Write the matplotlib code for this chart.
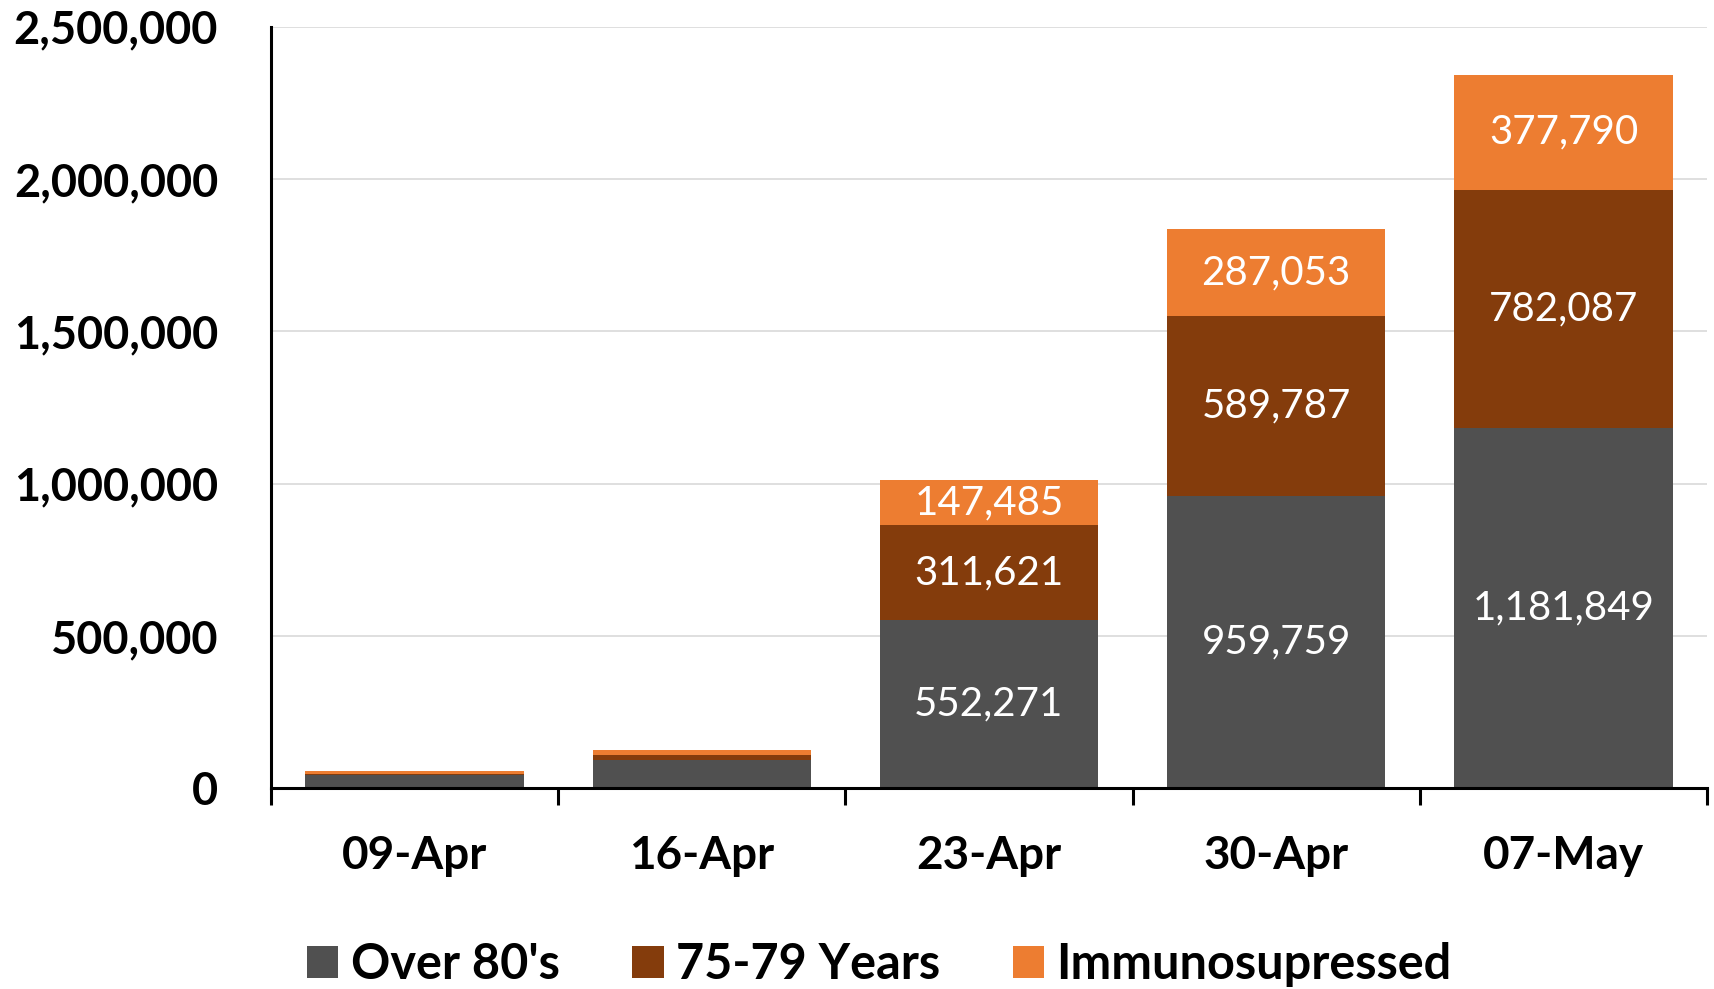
import numpy as np
import matplotlib.pyplot as plt
from matplotlib.ticker import FuncFormatter, FixedLocator

plt.rcParams['font.family'] = ['Lato', 'DejaVu Sans']

dates = ['09-Apr', '16-Apr', '23-Apr', '30-Apr', '07-May']
over_80 = [42000, 93000, 552271, 959759, 1181849]
age_75_79 = [6000, 16000, 311621, 589787, 782087]
immuno = [9000, 16000, 147485, 287053, 377790]
series_names = ["Over 80's", '75-79 Years', 'Immunosupressed']
colors = ['#505050', '#843C0C', '#ED7D31']
# only the bigger bars carry value labels
labelled = [False, False, True, True, True]

fig = plt.figure(figsize=(17.14, 9.89), dpi=100)
ax = fig.add_axes([0.158, 0.203, 0.838, 0.770])

x = np.arange(len(dates))
bottom = np.zeros(len(dates))
handles = []
for vals, name, col in zip([over_80, age_75_79, immuno], series_names, colors):
    vals = np.array(vals, dtype=float)
    bars = ax.bar(x, vals, width=0.76, bottom=bottom, color=col, label=name, zorder=3)
    handles.append(bars)
    for i, (v, b) in enumerate(zip(vals, bottom)):
        if labelled[i]:
            ax.text(x[i], b + v / 2, f'{int(v):,}', ha='center', va='center',
                    color='white', fontsize=29, zorder=4)
    bottom += vals

ax.set_xlim(-0.5, len(dates) - 0.5)
ax.set_ylim(0, 2500000)
ax.set_yticks(np.arange(0, 2500001, 500000))
ax.yaxis.set_major_formatter(FuncFormatter(lambda v, p: f'{int(v):,}'))
ax.grid(axis='y', color='#D9D9D9', linewidth=1.2, zorder=0)

ax.set_xticks(x)
ax.set_xticklabels(dates)
ax.xaxis.set_minor_locator(FixedLocator(np.arange(-0.5, len(dates), 1.0)))
ax.tick_params(axis='x', which='major', length=0, pad=34, labelsize=33)
ax.tick_params(axis='x', which='minor', length=12, width=2.2, color='black')
ax.tick_params(axis='y', length=0, pad=38, labelsize=32.5)
for lab in ax.get_xticklabels() + ax.get_yticklabels():
    lab.set_fontweight('bold')

for s in ['top', 'right']:
    ax.spines[s].set_visible(False)
for s in ['left', 'bottom']:
    ax.spines[s].set_linewidth(2.2)
    ax.spines[s].set_color('black')
    ax.spines[s].set_zorder(5)

fig.legend(handles=handles, labels=series_names, loc='center', bbox_to_anchor=(0.513, 0.025),
           ncol=3, frameon=False, prop={'size': 35, 'weight': 'bold'},
           handlelength=0.64, handleheight=0.64, handletextpad=0.25, columnspacing=1.5)

fig.savefig('out.png', dpi=100)
